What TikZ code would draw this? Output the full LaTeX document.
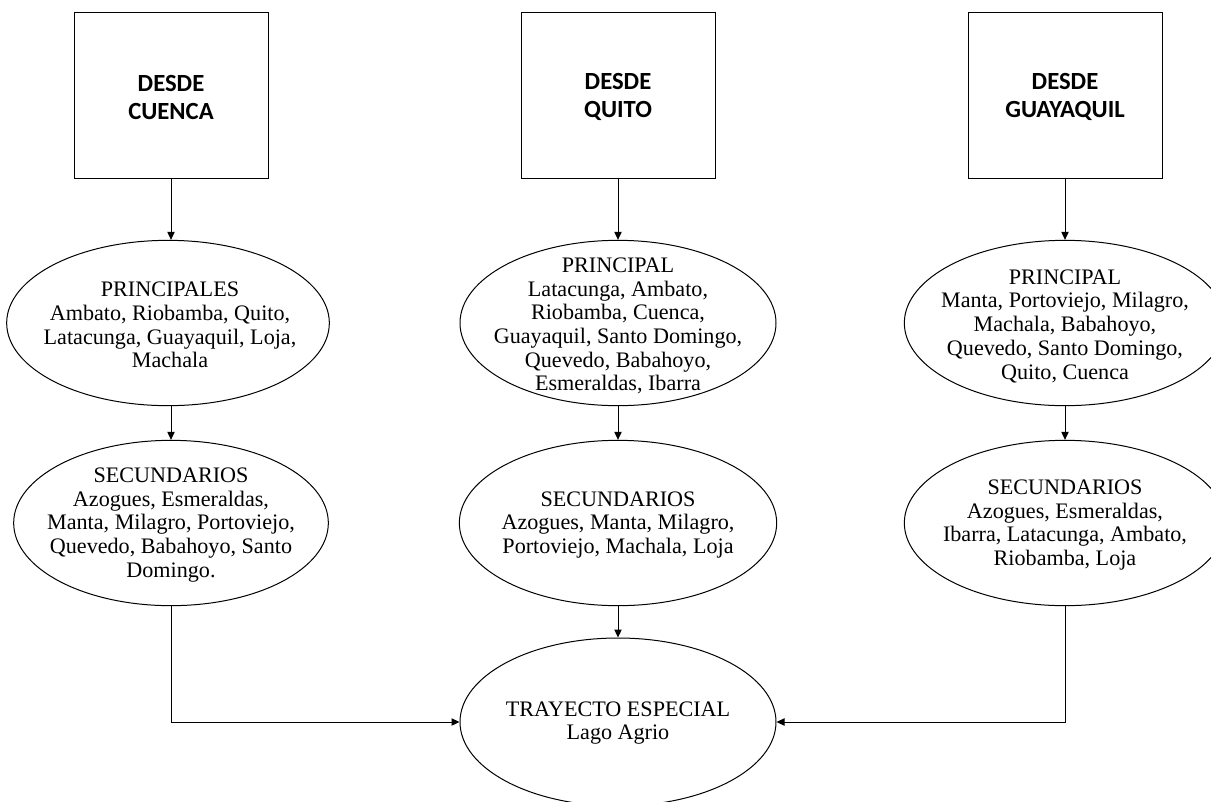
\documentclass[tikz,border=0pt]{standalone}
\usepackage{fontspec}
\setmainfont{Liberation Serif}
\newfontfamily\boxfont{Carlito}
\usetikzlibrary{shapes.geometric,arrows.meta}
\begin{document}
\begin{tikzpicture}[x=0.75pt,y=-0.75pt,
  line width=0.75pt,
  origin/.style={draw,minimum width=145.5pt,minimum height=124.5pt,inner sep=0pt},
  origintext/.style={align=center,inner sep=0pt,
    font=\boxfont\bfseries\fontsize{18.5}{21}\selectfont},
  stage/.style={draw,ellipse,inner sep=0pt,minimum height=124pt},
  stagetext/.style={align=center,inner sep=0pt,
    font=\fontsize{16.6}{17.8}\selectfont},
  link/.style={-{Triangle[length=6pt,width=5.5pt]}}]
\useasboundingbox (0,0) rectangle (1211,801);
\clip (0,0) rectangle (1211,801);

% starting cities
\node[origin] (bc) at (171,95) {};
\node[origin] (bq) at (618,95) {};
\node[origin] (bg) at (1065,95) {};
\node[origintext] (tc) at (171,97) {DESDE\\CUENCA};
\node[origintext] (tq) at (618,97) {DESDE\\QUITO};
\node[origintext] (tg) at (1065,97) {DESDE\\GUAYAQUIL};

% main destinations
\node[stage,minimum width=242pt] (pc) at (168,323) {};
\node[stage,minimum width=237pt] (pq) at (618,323) {};
\node[stage,minimum width=241pt] (pg) at (1065,323) {};
\node[stagetext] (lpc) at (170,325)
  {PRINCIPALES\\Ambato, Riobamba, Quito,\\Latacunga, Guayaquil, Loja,\\Machala};
\node[stagetext] (lpq) at (618,326)
  {PRINCIPAL\\Latacunga, Ambato,\\Riobamba, Cuenca,\\Guayaquil, Santo Domingo,\\Quevedo, Babahoyo,\\Esmeraldas, Ibarra};
\node[stagetext] (lpg) at (1065,326)
  {PRINCIPAL\\Manta, Portoviejo, Milagro,\\Machala, Babahoyo,\\Quevedo, Santo Domingo,\\Quito, Cuenca};

% secondary destinations
\node[stage,minimum width=236pt] (sc) at (171,523) {};
\node[stage,minimum width=238pt] (sq) at (618,523) {};
\node[stage,minimum width=241pt] (sg) at (1065,523) {};
\node[stagetext] (lsc) at (171,525)
  {SECUNDARIOS\\Azogues, Esmeraldas,\\Manta, Milagro, Portoviejo,\\Quevedo, Babahoyo, Santo\\Domingo.};
\node[stagetext] (lsq) at (618,525)
  {SECUNDARIOS\\Azogues, Manta, Milagro,\\Portoviejo, Machala, Loja};
\node[stagetext] (lsg) at (1065,525)
  {SECUNDARIOS\\Azogues, Esmeraldas,\\Ibarra, Latacunga, Ambato,\\Riobamba, Loja};

% special route
\node[stage,minimum width=237pt,minimum height=126pt] (te) at (618,722) {};
\node[stagetext] (lte) at (618,723) {TRAYECTO ESPECIAL\\Lago Agrio};

% connectors
\draw[link] (bc) -- (bc|-pc.north);
\draw[link] (bq) -- (pq);
\draw[link] (bg) -- (pg);
\draw[link] (pc.south-|bc) -- (sc);
\draw[link] (pq) -- (sq);
\draw[link] (pg) -- (sg);
\draw[link] (sq) -- (te);
\draw[link] (sc.south) |- (te.west);
\draw[link] (sg.south) |- (te.east);
\end{tikzpicture}
\end{document}
